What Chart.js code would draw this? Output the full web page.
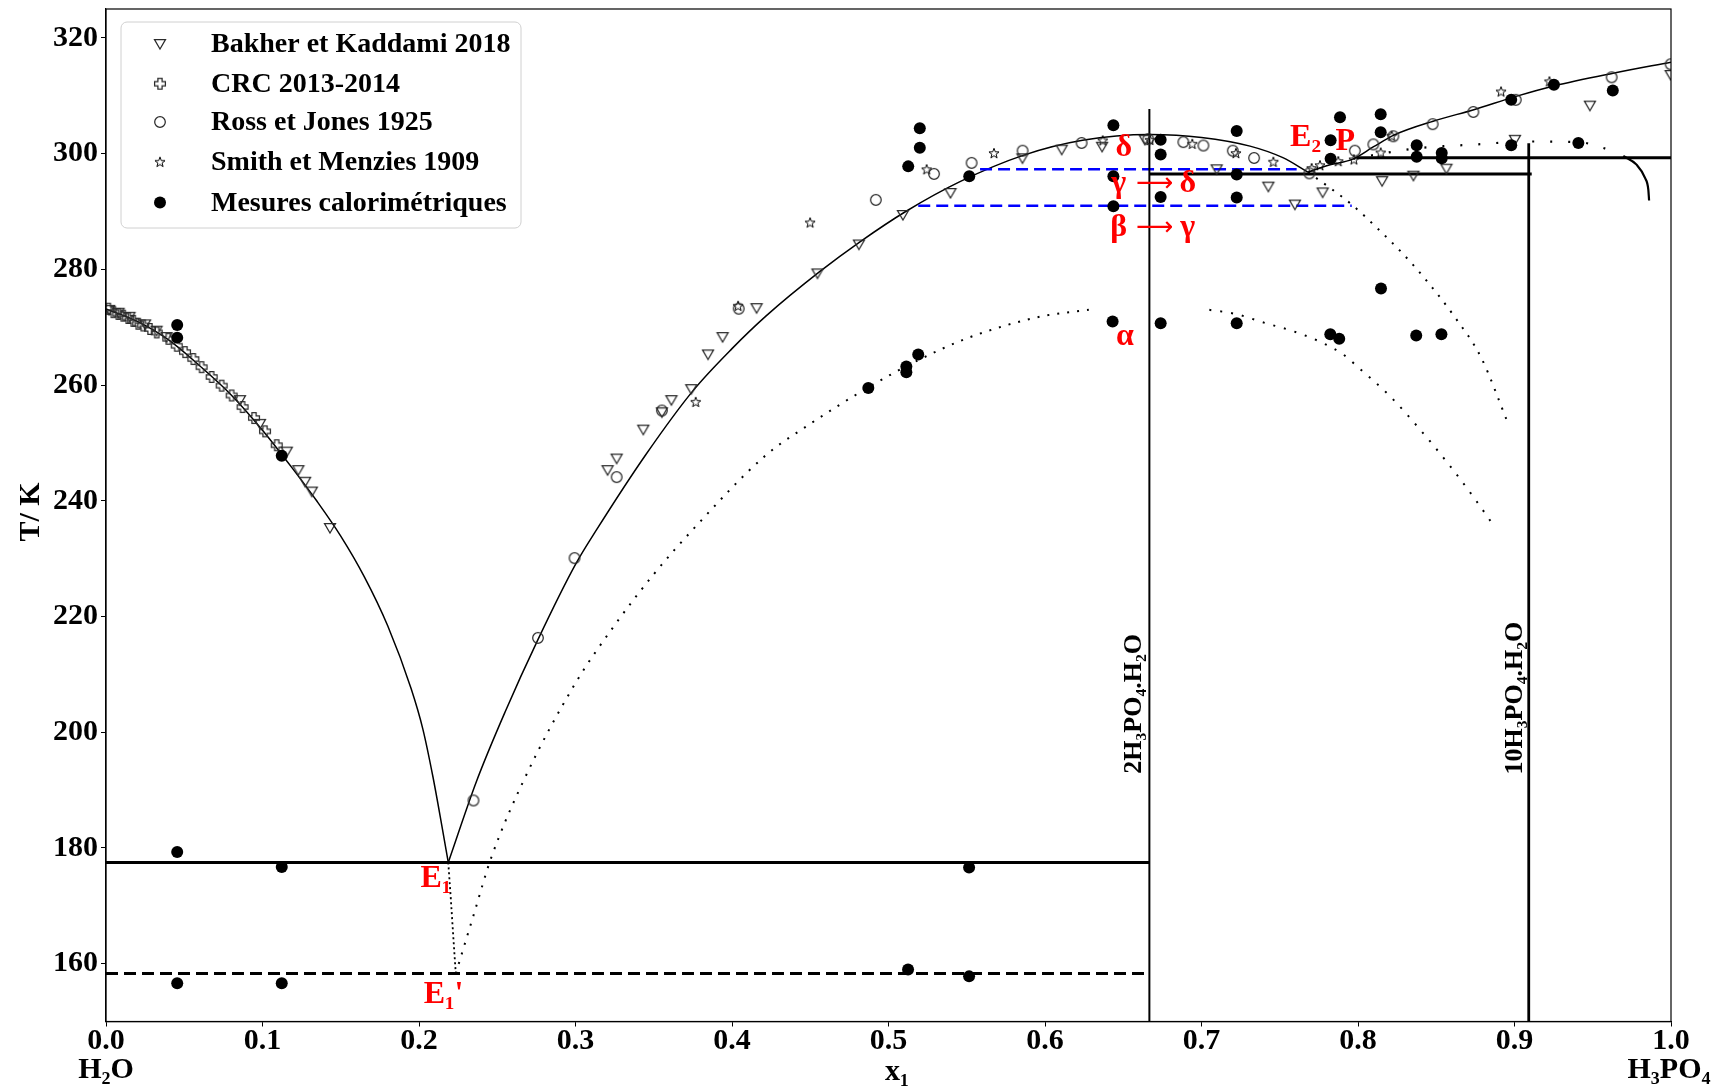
<!DOCTYPE html>
<html>
<head>
<meta charset="utf-8">
<script src="https://cdn.jsdelivr.net/npm/chart.js@4.4.1/dist/chart.umd.min.js"></script>
<style>
html, body { margin: 0; padding: 0; background: #fff; }
#wrap { width: 1726px; height: 1087px; position: relative; }
</style>
</head>
<body>
<div id="wrap"><canvas id="myChart"></canvas></div>
<script>
///// H2O - H3PO4 PHASE DIAGRAM /////

// Axis ticks
const xTicks = [0, 0.1, 0.2, 0.3, 0.4, 0.5, 0.6, 0.7, 0.8, 0.9, 1.0];
const yTicks = [160, 180, 200, 220, 240, 260, 280, 300, 320];

// Liquidus curves [x1, T/K]
const iceCurve = [[0, 273.15], [0.02, 271.0], [0.04, 267.8], [0.06, 263.3], [0.08, 258.3], [0.10, 252.2],
    [0.12, 245.3], [0.1346, 240.0], [0.15, 233.9], [0.165, 226.9], [0.18, 218.4], [0.195, 207.5],
    [0.2025, 200.5], [0.2089, 192.3], [0.2145, 184.0], [0.2187, 177.5]];
const hemiCurve = [[0.2187, 177.5], [0.2367, 191.5], [0.255, 203.5], [0.276, 216.0], [0.30, 229.0],
    [0.3135, 235.0], [0.345, 248.0], [0.375, 259.0], [0.40, 266.3], [0.422, 272.0], [0.456, 279.6],
    [0.482, 284.8], [0.511, 290.0], [0.546, 295.2], [0.586, 299.7], [0.624, 302.3], [0.667, 303.3],
    [0.70, 302.8], [0.731, 301.3], [0.752, 299.3], [0.768, 296.8]];
const acidCurve = [[0.768, 296.8], [0.78, 297.9], [0.797, 299.1], [0.81, 301.2], [0.823, 303.2],
    [0.848, 305.6], [0.874, 307.6], [0.901, 309.9], [0.925, 311.7], [0.963, 313.9], [1.0, 315.8]];
const endArc = [[0.9695, 299.6], [0.978, 298.1], [0.9834, 295.8], [0.9855, 293.8], [0.986, 291.9]];

// Metastable (dotted) curves
const e1Metastable = [[0.2187, 177.5], [0.2205, 170.5], [0.222, 164.3], [0.2235, 158.3]];
const alphaLeft = [[0.2235, 158.3], [0.235, 168.5], [0.246, 178.2], [0.2673, 191.9], [0.30, 208.5],
    [0.325, 218.5], [0.35, 227.3], [0.3766, 235.5], [0.4213, 247.8], [0.45, 253.3], [0.4871, 259.6],
    [0.519, 264.3], [0.5484, 267.9], [0.5748, 270.3], [0.60, 272.0], [0.628, 273.0]];
const alphaRight = [[0.705, 273.0], [0.7216, 272.3], [0.741, 270.7], [0.7575, 269.4], [0.774, 267.7],
    [0.79, 265.4], [0.80, 263.1], [0.82, 258.2], [0.84, 252.2], [0.86, 245.6], [0.875, 240.2], [0.887, 235.6]];
const e2Metastable = [[0.768, 296.8], [0.782, 294.1], [0.796, 291.2], [0.812, 287.2], [0.829, 282.6],
    [0.8455, 277.5], [0.862, 271.7], [0.8786, 264.8], [0.896, 253.3]];
const pMetastable = [[0.797, 299.1], [0.812, 299.85], [0.837, 300.9], [0.876, 301.6], [0.908, 302.1],
    [0.9408, 302.0], [0.9565, 301.0], [0.9674, 299.85]];

// Invariant lines
const e1Line = [[0, 177.5], [0.667, 177.5]];
const e1pLine = [[0, 158.3], [0.667, 158.3]];
const e2Line = [[0.667, 296.5], [0.911, 296.5]];
const pLine = [[0.799, 299.3], [1.0, 299.3]];
const hemiVertical = [[0.6667, 307.7], [0.6667, 150]];
const decaVertical = [[0.9091, 301.8], [0.9091, 150]];
const gammaDelta = [[0.5585, 297.3], [0.7608, 297.3]];
const betaGamma = [[0.519, 291.0], [0.796, 291.0]];

// Experimental data [x1, T/K]
const bakher = [[0.002, 273.0], [0.008, 272.5], [0.015, 271.8], [0.025, 270.5], [0.0323, 269.4],
    [0.0387, 268.3], [0.0856, 257.4], [0.0984, 253.3], [0.1155, 248.5], [0.1229, 245.3], [0.1272, 243.3],
    [0.1315, 241.6], [0.1431, 235.3], [0.3205, 245.3], [0.3263, 247.3], [0.3433, 252.3], [0.3552, 255.3],
    [0.3613, 257.4], [0.374, 259.3], [0.3847, 265.3], [0.394, 268.3], [0.4157, 273.3], [0.4546, 279.3],
    [0.4811, 284.3], [0.5092, 289.4], [0.5396, 293.2], [0.5856, 299.2], [0.6107, 300.7], [0.6365, 301.2],
    [0.6638, 302.4], [0.7097, 297.3], [0.7427, 294.3], [0.7597, 291.2], [0.7774, 293.3], [0.8154, 295.25],
    [0.8354, 296.2], [0.8565, 297.4], [0.9003, 302.4], [0.9482, 308.3], [0.9998, 313.6]];
const crc = [[0.0015, 273.2], [0.0047, 272.6], [0.0079, 272.3], [0.011, 272.0], [0.0142, 271.6],
    [0.0174, 271.1], [0.0206, 270.6], [0.0238, 270.3], [0.0281, 269.7], [0.0324, 269.1], [0.0398, 268.0],
    [0.0452, 266.8], [0.0505, 265.7], [0.0558, 264.5], [0.0611, 263.1], [0.0675, 261.4], [0.0739, 259.9],
    [0.0803, 258.2], [0.0873, 256.2], [0.0946, 254.3], [0.1016, 252.0], [0.1091, 249.6]];
const ross = [[0.2348, 188.2], [0.276, 216.3], [0.2994, 230.1], [0.3263, 244.1], [0.3552, 255.6],
    [0.4043, 273.2], [0.4919, 292.0], [0.5291, 296.5], [0.5531, 298.4], [0.5857, 300.5], [0.6234, 301.85],
    [0.666, 302.5], [0.6884, 302.0], [0.7012, 301.4], [0.72, 300.5], [0.7336, 299.25], [0.7689, 296.6],
    [0.798, 300.5], [0.8098, 301.6], [0.8226, 303.0], [0.8477, 305.1], [0.8737, 307.2], [0.9008, 309.3],
    [0.9621, 313.2], [0.9998, 315.45]];
const smith = [[0.3768, 257.1], [0.4039, 273.7], [0.4499, 288.1], [0.5244, 297.3], [0.5674, 300.1],
    [0.6369, 302.3], [0.6671, 302.4], [0.6941, 301.7], [0.722, 300.1], [0.7459, 298.6], [0.7704, 297.5],
    [0.7757, 298.0], [0.7874, 298.7], [0.7974, 299.0], [0.8145, 300.2], [0.8215, 303.1], [0.8914, 310.75],
    [0.9223, 312.5]];
const calo = [[0.0455, 270.4], [0.0455, 268.2], [0.1123, 247.8], [0.0455, 179.3], [0.1123, 176.7],
    [0.0455, 156.6], [0.1123, 156.6], [0.5125, 159.0], [0.5515, 157.8], [0.5515, 176.6], [0.4871, 259.5],
    [0.5114, 263.2], [0.5114, 262.2], [0.519, 265.3], [0.52, 304.4], [0.52, 301.0], [0.5126, 297.8],
    [0.5516, 296.1], [0.6437, 304.9], [0.6437, 296.1], [0.6437, 290.9], [0.6432, 271.0], [0.6739, 302.4],
    [0.6739, 299.85], [0.6739, 292.5], [0.6739, 270.7], [0.7225, 303.9], [0.7225, 296.4], [0.7225, 292.4],
    [0.7225, 270.7], [0.7825, 302.3], [0.7825, 299.1], [0.7885, 306.3], [0.7823, 268.8], [0.788, 268.0],
    [0.8145, 306.8], [0.8145, 303.7], [0.8147, 276.7], [0.8375, 301.45], [0.8375, 299.45], [0.8372, 268.55],
    [0.8535, 300.1], [0.8535, 299.2], [0.8533, 268.8], [0.8979, 309.3], [0.8979, 301.45], [0.9252, 311.9],
    [0.9408, 301.85], [0.9628, 310.9]];

const legendLabels = ['Bakher et Kaddami 2018', 'CRC 2013-2014', 'Ross et Jones 1925',
    'Smith et Menzies 1909', 'Mesures calorimétriques'];

// Text labels placed in data coordinates
const redLabels = [
    ['E\u2081', 0.2108, 174.6], ["E\u2081'", 0.2157, 154.7], ['E\u2082', 0.7665, 302.7], ['P', 0.7918, 302.0],
    ['\u03b4', 0.6504, 301.0], ['\u03b1', 0.651, 268.4]
];
const transitionLabels = [['\u03b3', '\u03b4', 0.6701, 294.8], ['\u03b2', '\u03b3', 0.6701, 287.2]];
const phaseLabels = [['2H\u2083PO\u2084.H\u2082O', 0.6569, 204.9], ['10H\u2083PO\u2084.H\u2082O', 0.9003, 205.9]];

const SERIF = '"Liberation Serif", "Times New Roman", "DejaVu Serif", serif';
Chart.defaults.font.family = SERIF;
Chart.defaults.color = '#000';

const pts = arr => arr.map(p => ({ x: p[0], y: p[1] }));

// hollow marker images
function makeMarker(kind) {
    const c = document.createElement('canvas');
    c.width = 16; c.height = 16;
    const g = c.getContext('2d');
    g.lineWidth = 1.25;
    g.strokeStyle = '#2a2a2a';
    g.beginPath();
    if (kind === 'tri') {
        g.moveTo(2.5, 3.5); g.lineTo(13.5, 3.5); g.lineTo(8, 13); g.closePath();
    } else if (kind === 'circle') {
        g.arc(8, 8, 5.3, 0, Math.PI * 2);
    } else if (kind === 'plus') {
        const a = 2.1, b = 5.4;
        g.moveTo(8 - a, 8 - b); g.lineTo(8 + a, 8 - b); g.lineTo(8 + a, 8 - a); g.lineTo(8 + b, 8 - a);
        g.lineTo(8 + b, 8 + a); g.lineTo(8 + a, 8 + a); g.lineTo(8 + a, 8 + b); g.lineTo(8 - a, 8 + b);
        g.lineTo(8 - a, 8 + a); g.lineTo(8 - b, 8 + a); g.lineTo(8 - b, 8 - a); g.lineTo(8 - a, 8 - a);
        g.closePath();
    } else if (kind === 'star') {
        g.strokeStyle = '#000';
        g.lineWidth = 1;
        for (let i = 0; i < 10; i++) {
            const r = i % 2 === 0 ? 5.3 : 2.2;
            const ang = -Math.PI / 2 + i * Math.PI / 5;
            const px = 8 + r * Math.cos(ang), py = 8.5 + r * Math.sin(ang);
            if (i === 0) g.moveTo(px, py); else g.lineTo(px, py);
        }
        g.closePath();
    }
    g.stroke();
    return c;
}
const triImg = makeMarker('tri');
const plusImg = makeMarker('plus');
const circImg = makeMarker('circle');
const starImg = makeMarker('star');

function curve(data, dash, width) {
    return {
        data: pts(data), showLine: true, pointRadius: 0, borderColor: '#000', borderWidth: width || 1.5,
        borderDash: dash || [], cubicInterpolationMode: 'monotone', fill: false, order: 3
    };
}
function straight(data, color, width, dash) {
    return {
        data: pts(data), showLine: true, pointRadius: 0, borderColor: color, borderWidth: width,
        borderDash: dash || [], tension: 0, fill: false, order: 2
    };
}
function markers(data, img) {
    return { data: pts(data), pointStyle: img, pointRadius: 8, showLine: false, order: 1 };
}

const datasets = [
    markers(bakher, triImg),
    markers(crc, plusImg),
    markers(ross, circImg),
    markers(smith, starImg),
    { data: pts(calo), pointStyle: 'circle', pointRadius: 6, backgroundColor: '#000', borderColor: '#000',
      borderWidth: 0, showLine: false, order: 0 },
    curve(iceCurve),
    curve(hemiCurve),
    curve(acidCurve),
    curve(endArc, [], 2.2),
    curve(e1Metastable, [2, 3], 1.8),
    curve(alphaLeft, [2, 8], 2),
    curve(alphaRight, [2, 9], 2),
    curve(e2Metastable, [2, 8], 2),
    curve(pMetastable, [2, 16], 2.2),
    straight(e1Line, '#000', 3),
    straight(e1pLine, '#000', 3, [12, 6]),
    straight(e2Line, '#000', 3),
    straight(pLine, '#000', 3),
    straight(hemiVertical, '#000', 2),
    straight(decaVertical, '#000', 2.8),
    straight(gammaDelta, '#0000ff', 2.5, [12, 6]),
    straight(betaGamma, '#0000ff', 2.5, [12, 6])
];

const decorPlugin = {
    id: 'decor',
    afterDatasetsDraw(chart) {
        const { ctx, chartArea: a, scales: { x, y } } = chart;
        ctx.save();
        ctx.strokeStyle = '#000';
        ctx.lineWidth = 1.2;
        ctx.strokeRect(a.left, a.top, a.right - a.left, a.bottom - a.top);

        ctx.textAlign = 'center';
        ctx.textBaseline = 'middle';
        ctx.fillStyle = '#ff0000';
        ctx.font = 'bold 32px ' + SERIF;
        redLabels.forEach(l => ctx.fillText(l[0], x.getPixelForValue(l[1]), y.getPixelForValue(l[2])));

        // "γ → δ" style labels: letters in serif, long thin arrow
        transitionLabels.forEach(l => {
            const cx = x.getPixelForValue(l[2]), cy = y.getPixelForValue(l[3]);
            ctx.font = 'bold 32px ' + SERIF;
            ctx.fillText(l[0], cx - 36, cy);
            ctx.fillText(l[1], cx + 33, cy);
            ctx.font = '26px "DejaVu Sans"';
            ctx.fillText('\u27f6', cx, cy + 1);
        });

        ctx.fillStyle = '#000';
        ctx.font = 'bold 26px ' + SERIF;
        phaseLabels.forEach(l => {
            ctx.save();
            ctx.translate(x.getPixelForValue(l[1]), y.getPixelForValue(l[2]));
            ctx.rotate(-Math.PI / 2);
            ctx.fillText(l[0], 0, 0);
            ctx.restore();
        });
        ctx.restore();
    },
    afterDraw(chart) {
        const { ctx, chartArea: a } = chart;
        ctx.save();
        ctx.fillStyle = '#000';
        ctx.textAlign = 'center';
        ctx.textBaseline = 'middle';
        ctx.font = 'bold 30px ' + SERIF;
        ctx.fillText('x\u2081', 897, 1072);
        ctx.fillText('H\u2082O', a.left, 1070);
        ctx.fillText('H\u2083PO\u2084', 1669, 1070);
        ctx.save();
        ctx.translate(31, 512);
        ctx.rotate(-Math.PI / 2);
        ctx.fillText('T/ K', 0, 0);
        ctx.restore();

        // legend box
        const bx = 121, by = 22, bw = 400, bh = 206, r = 6;
        ctx.beginPath();
        ctx.moveTo(bx + r, by);
        ctx.arcTo(bx + bw, by, bx + bw, by + bh, r);
        ctx.arcTo(bx + bw, by + bh, bx, by + bh, r);
        ctx.arcTo(bx, by + bh, bx, by, r);
        ctx.arcTo(bx, by, bx + bw, by, r);
        ctx.closePath();
        ctx.fillStyle = 'rgba(255,255,255,0.8)';
        ctx.fill();
        ctx.strokeStyle = '#d0d0d0';
        ctx.lineWidth = 1;
        ctx.stroke();

        const rows = [44, 83.7, 122, 161.8, 202.5];
        const imgs = [triImg, plusImg, circImg, starImg, null];
        ctx.font = 'bold 28px ' + SERIF;
        ctx.textAlign = 'left';
        ctx.fillStyle = '#000';
        legendLabels.forEach((t, i) => {
            if (imgs[i]) {
                ctx.drawImage(imgs[i], 160 - 8, rows[i] - 8);
            } else {
                ctx.beginPath();
                ctx.arc(160, rows[i], 6, 0, Math.PI * 2);
                ctx.fill();
            }
            ctx.fillText(t, 211, rows[i] + 1);
        });
        ctx.restore();
    }
};

const myChart = new Chart('myChart', {
    type: 'scatter',
    data: { datasets: datasets },
    options: {
        responsive: true,
        maintainAspectRatio: false,
        animation: false,
        layout: { padding: { top: 9, right: 55, left: 0, bottom: 0 } },
        plugins: { legend: { display: false }, tooltip: { enabled: false } },
        scales: {
            x: {
                type: 'linear', min: 0, max: 1,
                afterBuildTicks: s => { s.ticks = xTicks.map(v => ({ value: v })); },
                afterFit: s => { s.height = 65.5; s.paddingLeft = 0; s.paddingRight = 0; },
                ticks: { callback: v => v.toFixed(1), font: { size: 30, weight: 'bold', lineHeight: 1 },
                         padding: 0, maxRotation: 0, autoSkip: false, color: '#000' },
                grid: { drawOnChartArea: false, drawTicks: true, tickLength: 5, color: '#000' },
                border: { color: '#000', width: 1.2 }
            },
            y: {
                type: 'linear', min: 150, max: 325,
                afterBuildTicks: s => { s.ticks = yTicks.map(v => ({ value: v })); },
                afterFit: s => { s.width = 106; s.paddingTop = 0; s.paddingBottom = 0; },
                ticks: { font: { size: 30, weight: 'bold', lineHeight: 1 }, padding: 3, autoSkip: false, color: '#000' },
                grid: { drawOnChartArea: false, drawTicks: true, tickLength: 5, color: '#000' },
                border: { color: '#000', width: 1.2 }
            }
        }
    },
    plugins: [decorPlugin]
});
</script>
</body>
</html>
